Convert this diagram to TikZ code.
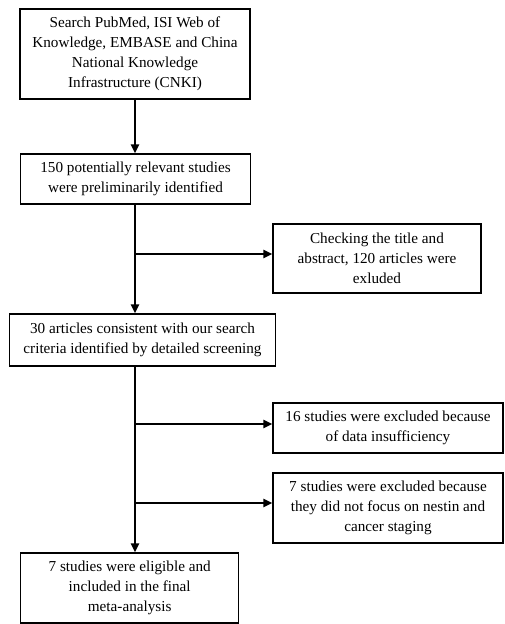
\documentclass[tikz,border=0pt]{standalone}
\usepackage{fontspec}
\setmainfont{Liberation Serif}
\usetikzlibrary{arrows.meta}
\begin{document}
\begin{tikzpicture}[x=1pt,y=-1pt,
  box/.style={draw,line width=1.1pt,rectangle,align=center,inner sep=0pt,
    font=\fontsize{15.2}{20}\selectfont},
  conn/.style={line width=2.2pt,-{Triangle[length=9pt,width=8pt]}},
  bar/.style={line width=2.2pt}]
\useasboundingbox (0,0) rectangle (504,624);
\node[box,minimum width=230,minimum height=90] (b1) at (135,54)
  {Search PubMed, ISI Web of\\Knowledge, EMBASE and China\\National Knowledge\\Infrastructure (CNKI)};
\node[box,minimum width=230,minimum height=50] (b2) at (135.5,179)
  {150 potentially relevant studies\\were preliminarily identified};
\node[box,minimum width=208,minimum height=69] (b3) at (377,258.5)
  {Checking the title and\\abstract, 120 articles were\\exluded};
\node[box,minimum width=266,minimum height=52] (b4) at (142.5,340)
  {30 articles consistent with our search\\criteria identified by detailed screening};
\node[box,minimum width=230,minimum height=50] (b5) at (388,428)
  {16 studies were excluded because\\of data insufficiency};
\node[box,minimum width=230,minimum height=70] (b6) at (388,508)
  {7 studies were excluded because\\they did not focus on nestin and\\cancer staging};
\node[box,minimum width=218,minimum height=70] (b7) at (129.7,588)
  {7 studies were eligible and\\included in the final\\meta-analysis};
\coordinate (sp) at (135,0);
\coordinate (j1) at (135,254);
\coordinate (j2) at (135,424);
\coordinate (j3) at (135,503);
\draw[conn] (b1.south -| sp) -- (b2.north -| sp);
\draw[conn] (b2.south -| sp) -- (b4.north -| sp);
\draw[conn] (b4.south -| sp) -- (b7.north -| sp);
\draw[conn] (j1) -- (j1 -| b3.west);
\draw[conn] (j2) -- (j2 -| b5.west);
\draw[conn] (j3) -- (j3 -| b6.west);
\end{tikzpicture}
\end{document}
